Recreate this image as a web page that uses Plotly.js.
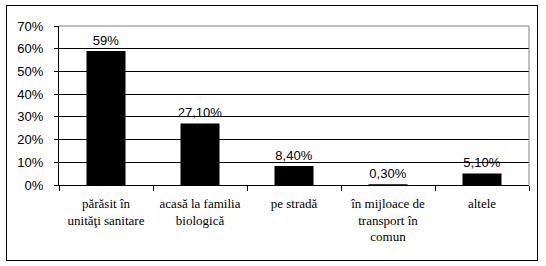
<!DOCTYPE html>
<html>
<head>
<meta charset="utf-8">
<script src="https://cdn.plot.ly/plotly-3.0.1.min.js"></script>
<style>
  html, body { margin: 0; padding: 0; background: #fff; }
  #frame { position: absolute; left: 6px; top: 5px; width: 532px; height: 256px; border: 1px solid #000; box-sizing: border-box; }
  #chart { position: absolute; left: 0; top: 0; width: 546px; height: 266px; }
</style>
</head>
<body>
<div id="frame"></div>
<div id="chart"></div>
<script>
const categories = [
  "părăsit în<br>unităţi sanitare",
  "acasă la familia<br>biologică",
  "pe stradă",
  "în mijloace de<br>transport în<br>comun",
  "altele"
];
const values = [59, 27.1, 8.4, 0.3, 5.1];
const valueLabels = ["59%", "27,10%", "8,40%", "0,30%", "5,10%"];
const yTickValues = [0, 10, 20, 30, 40, 50, 60, 70];
const yTickLabels = ["0%", "10%", "20%", "30%", "40%", "50%", "60%", "70%"];

const trace = {
  type: 'bar',
  x: categories,
  y: values,
  text: valueLabels,
  textposition: 'outside',
  constraintext: 'none',
  cliponaxis: false,
  textfont: { family: 'Liberation Sans', size: 13, color: '#000' },
  marker: { color: '#000', line: { width: 0 } },
  hoverinfo: 'none'
};

const layout = {
  width: 546, height: 266,
  margin: { l: 59, r: 17, t: 26, b: 81 },
  paper_bgcolor: 'rgba(0,0,0,0)',
  plot_bgcolor: 'rgba(0,0,0,0)',
  bargap: 0.585,
  showlegend: false,
  xaxis: {
    type: 'category',
    tickson: 'boundaries',
    ticks: 'outside', ticklen: 5, tickcolor: '#000', tickwidth: 1,
    ticklabelstandoff: 6,
    showline: true, linecolor: '#000', linewidth: 1,
    showgrid: false,
    tickfont: { family: '"Times New Roman", "Liberation Serif", "DejaVu Serif", serif', size: 13, color: '#000' },
    automargin: false
  },
  yaxis: {
    range: [0, 70],
    tickvals: yTickValues,
    ticktext: yTickLabels,
    ticks: 'outside', ticklen: 4, tickcolor: '#000', tickwidth: 1,
    ticklabelstandoff: 8,
    showline: true, linecolor: '#000', linewidth: 1,
    showgrid: true, gridcolor: '#000', gridwidth: 1,
    zeroline: false,
    tickfont: { family: 'Liberation Sans', size: 13, color: '#000' },
    automargin: false
  },
  shapes: [
    { type: 'line', xref: 'paper', yref: 'paper', x0: 0, x1: 1, y0: 1, y1: 1, line: { color: '#808080', width: 1 }, layer: 'above' },
    { type: 'line', xref: 'paper', yref: 'paper', x0: 1, x1: 1, y0: 0, y1: 1, line: { color: '#808080', width: 1 }, layer: 'above' }
  ]
};

Plotly.newPlot('chart', [trace], layout, { staticPlot: true, displayModeBar: false });
</script>
</body>
</html>
